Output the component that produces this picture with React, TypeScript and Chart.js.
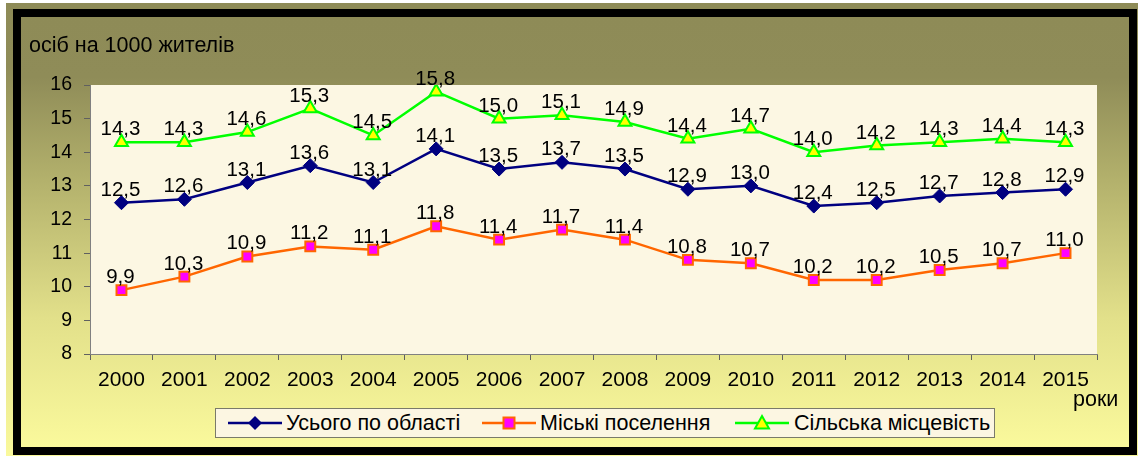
import React, { useEffect, useRef } from "react";
import { Chart, registerables } from "chart.js";

Chart.register(...registerables);

const years = ["2000","2001","2002","2003","2004","2005","2006","2007","2008","2009","2010","2011","2012","2013","2014","2015"];
const totalRegion = [12.5, 12.6, 13.1, 13.6, 13.1, 14.1, 13.5, 13.7, 13.5, 12.9, 13.0, 12.4, 12.5, 12.7, 12.8, 12.9];
const urban = [9.9, 10.3, 10.9, 11.2, 11.1, 11.8, 11.4, 11.7, 11.4, 10.8, 10.7, 10.2, 10.2, 10.5, 10.7, 11.0];
const rural = [14.3, 14.3, 14.6, 15.3, 14.5, 15.8, 15.0, 15.1, 14.9, 14.4, 14.7, 14.0, 14.2, 14.3, 14.4, 14.3];
const seriesNames = ["Усього по області", "Міські поселення", "Сільська місцевість"];
const yTitle = "осіб на 1000 жителів";
const xTitle = "роки";

const FONT = "'Liberation Sans', Arial, sans-serif";

const bgPlugin = {
  id: "plotBg",
  beforeDraw(chart: any) {
    const { ctx, chartArea } = chart;
    ctx.save();
    ctx.fillStyle = "#FCF7E3";
    ctx.fillRect(chartArea.left, chartArea.top, chartArea.right - chartArea.left, chartArea.bottom - chartArea.top);
    ctx.restore();
  },
};

const labelsPlugin = {
  id: "valueLabels",
  afterDatasetsDraw(chart: any) {
    const { ctx } = chart;
    ctx.save();
    ctx.font = `20.5px ${FONT}`;
    ctx.fillStyle = "#000";
    ctx.textAlign = "center";
    ctx.textBaseline = "alphabetic";
    chart.data.datasets.forEach((ds: any, i: number) => {
      const meta = chart.getDatasetMeta(i);
      meta.data.forEach((pt: any, j: number) => {
        const v = ds.data[j] as number;
        ctx.fillText(v.toFixed(1).replace(".", ","), pt.x - 1, pt.y - 7);
      });
    });
    ctx.restore();
  },
  afterDraw(chart: any) {
    const { ctx, chartArea } = chart;
    ctx.save();
    ctx.font = `21.5px ${FONT}`;
    ctx.fillStyle = "#000";
    ctx.textAlign = "left";
    ctx.textBaseline = "alphabetic";
    ctx.fillText(yTitle, chartArea.left - 61, chartArea.top - 33);
    ctx.fillText(xTitle, chartArea.right - 24, chartArea.bottom + 52);
    ctx.restore();
  },
};

function LegendMarker({ kind }: { kind: number }) {
  const lines = ["#000080", "#FF6600", "#00FF00"];
  return (
    <svg width="54" height="20" style={{ display: "block" }}>
      <line x1="0" y1="10" x2="54" y2="10" stroke={lines[kind]} strokeWidth="2.5" />
      {kind === 0 && <polygon points="27,3 34,10 27,17 20,10" fill="#000080" />}
      {kind === 1 && <rect x="21.5" y="4.5" width="11" height="11" fill="#FF00FF" stroke="#FF6600" strokeWidth="2" />}
      {kind === 2 && <polygon points="27,3 34,15.5 20,15.5" fill="#FFFF00" stroke="#00FF00" strokeWidth="2" />}
    </svg>
  );
}

export default function App() {
  const ref = useRef<HTMLCanvasElement | null>(null);
  useEffect(() => {
    document.body.style.margin = "0";
    const canvas = ref.current!;
    const chart = new Chart(canvas, {
      type: "line",
      data: {
        labels: years,
        datasets: [
          {
            label: seriesNames[0],
            data: totalRegion,
            borderColor: "#000080",
            backgroundColor: "#000080",
            borderWidth: 2.5,
            pointStyle: "rectRot",
            pointRadius: 7,
            pointBorderWidth: 1,
            pointBorderColor: "#000080",
            pointBackgroundColor: "#000080",
            tension: 0,
          },
          {
            label: seriesNames[1],
            data: urban,
            borderColor: "#FF6600",
            backgroundColor: "#FF00FF",
            borderWidth: 2.5,
            pointStyle: "rect",
            pointRadius: 7,
            pointBorderWidth: 2,
            pointBorderColor: "#FF6600",
            pointBackgroundColor: "#FF00FF",
            tension: 0,
          },
          {
            label: seriesNames[2],
            data: rural,
            borderColor: "#00FF00",
            backgroundColor: "#FFFF00",
            borderWidth: 2.5,
            pointStyle: "triangle",
            pointRadius: 7.5,
            pointBorderWidth: 2,
            pointBorderColor: "#00FF00",
            pointBackgroundColor: "#FFFF00",
            tension: 0,
          },
        ],
      },
      options: {
        responsive: false,
        animation: false,
        layout: { padding: { left: 19, right: 32, top: 68, bottom: 53 } },
        plugins: { legend: { display: false }, tooltip: { enabled: false }, title: { display: false } },
        scales: {
          x: {
            type: "category",
            offset: true,
            afterFit: (s: any) => { s.height = 40; },
            grid: { offset: true, drawOnChartArea: false, drawTicks: true, tickLength: 6, color: "#606060" },
            border: { color: "#808080", width: 1 },
            ticks: { color: "#000", font: { family: FONT, size: 21 }, padding: 8, maxRotation: 0, autoSkip: false },
          },
          y: {
            min: 8,
            max: 16,
            afterFit: (s: any) => { s.width = 50; },
            grid: { drawOnChartArea: false, drawTicks: true, tickLength: 6, color: "#606060" },
            border: { color: "#808080", width: 1 },
            ticks: { stepSize: 1, color: "#000", font: { family: FONT, size: 19.5 }, padding: 12 },
          },
        },
      },
      plugins: [bgPlugin, labelsPlugin],
    } as any);
    return () => chart.destroy();
  }, []);

  const grad = "linear-gradient(to bottom, #8E8B57 0%, #8F8C58 14%, #B3B16C 38%, #E2E08A 70%, #FAF99C 100%)";
  const legendItems = [
    { line: 12, text: 70 },
    { line: 266, text: 324 },
    { line: 519, text: 578 },
  ];
  return (
    <div style={{ position: "relative", width: 1138, height: 456, background: "#fff", overflow: "hidden" }}>
      <div style={{ position: "absolute", left: 6, top: 3, width: 1132, height: 453, background: grad }} />
      <div
        style={{
          position: "absolute", left: 13, top: 9, width: 1124, height: 446,
          border: "8px solid #000", boxSizing: "border-box", background: grad,
        }}
      />
      <canvas ref={ref} width={1108} height={430} style={{ position: "absolute", left: 21, top: 17, width: 1108, height: 430 }} />
      <div
        style={{
          position: "absolute", left: 215, top: 408, width: 780, height: 30, boxSizing: "border-box",
          border: "1px solid #7A7A6A", background: "#FCF6E2", fontFamily: FONT, fontSize: 21.5, color: "#000",
        }}
      >
        {legendItems.map((it, i) => (
          <React.Fragment key={i}>
            <div style={{ position: "absolute", left: it.line, top: 4 }}>
              <LegendMarker kind={i} />
            </div>
            <span style={{ position: "absolute", left: it.text, top: 2, lineHeight: "24px", whiteSpace: "nowrap" }}>
              {seriesNames[i]}
            </span>
          </React.Fragment>
        ))}
      </div>
    </div>
  );
}
